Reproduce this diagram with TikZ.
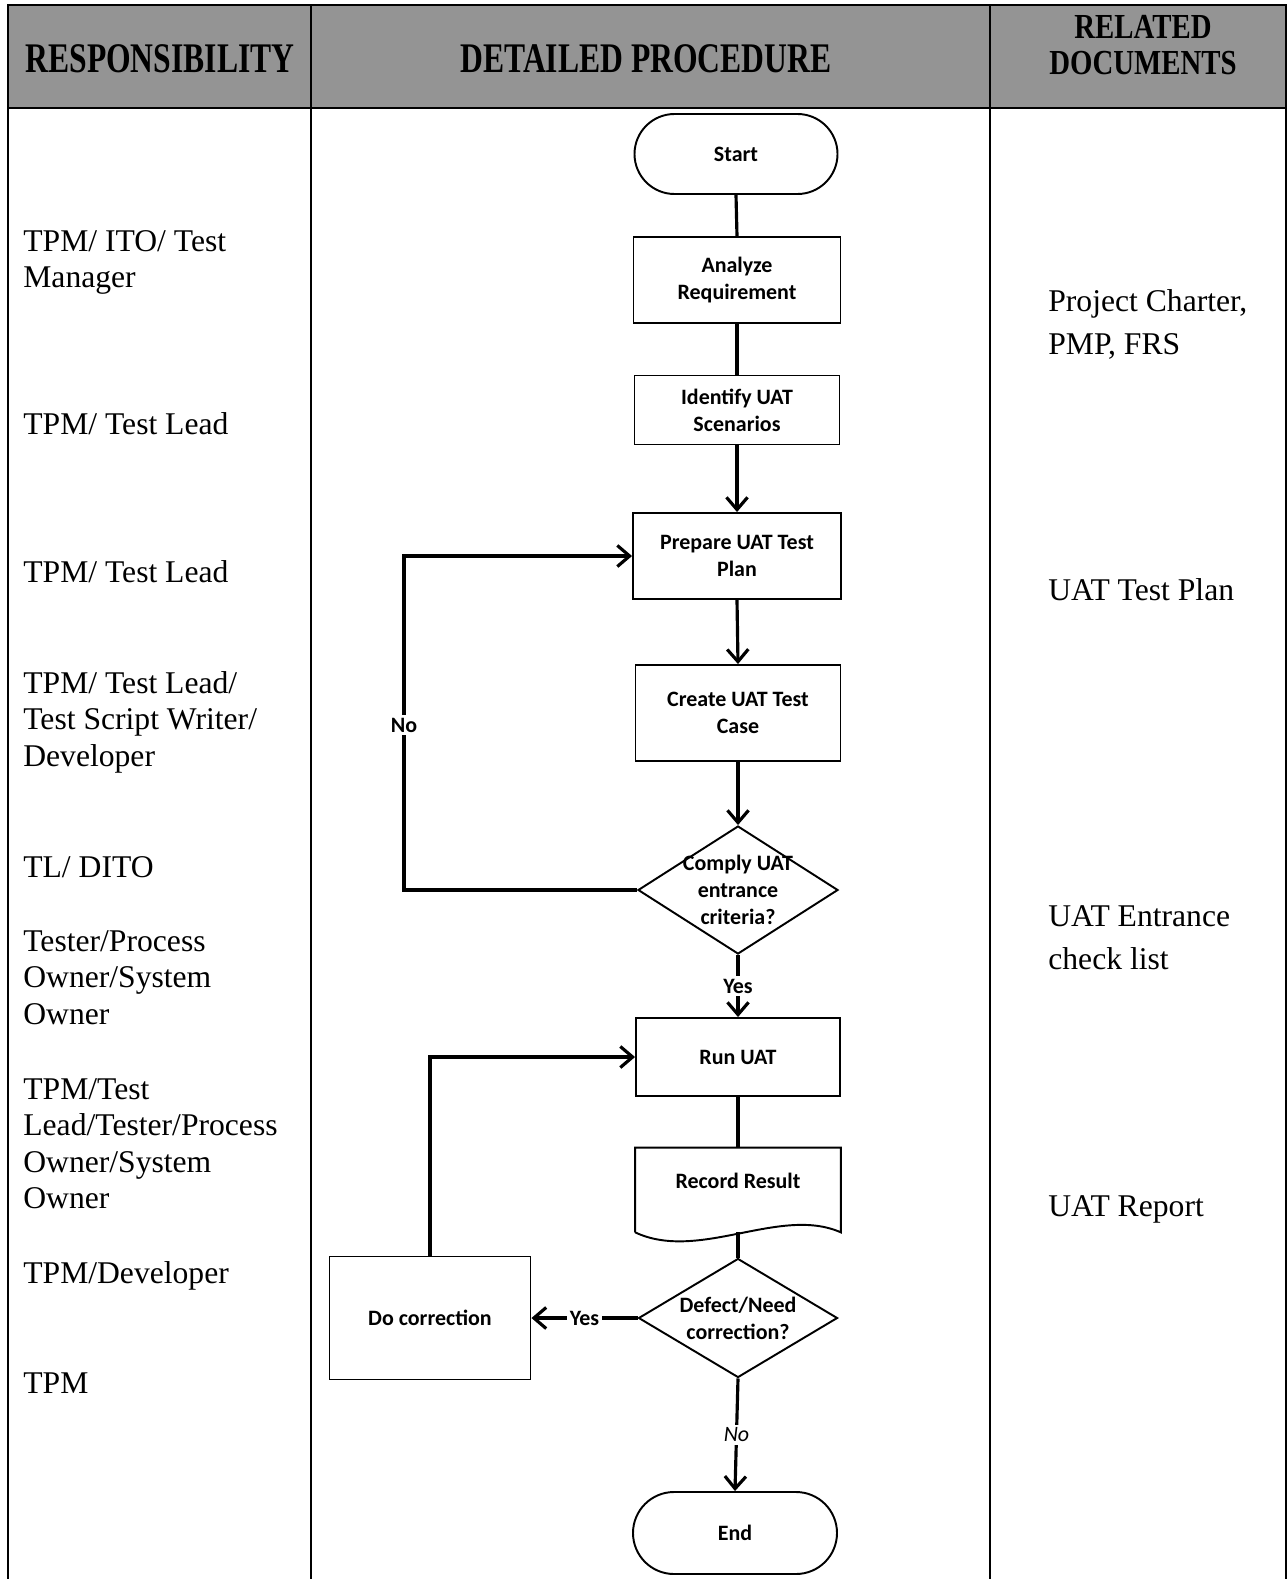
\documentclass[tikz,border=0pt]{standalone}
\usepackage{fontspec}
\setmainfont{Liberation Serif}
\newfontfamily\flowfont{Carlito}
\usepackage{graphicx}
\usetikzlibrary{positioning,shapes.geometric,arrows.meta}
\newlength{\px}
\setlength{\px}{0.02cm}

\begin{document}
\begin{tikzpicture}[
  x=0.02cm, y=-0.02cm,
  tbl/.style={line width=1.2pt},
  headtxt/.style={align=center, inner sep=0pt, font=\bfseries\fontsize{24}{26}\selectfont},
  resp/.style={anchor=base west, align=left, inner sep=0pt, font=\fontsize{18}{20.7}\selectfont},
  docs/.style={anchor=base west, align=left, inner sep=0pt, font=\fontsize{18}{24.4}\selectfont},
  flowtxt/.style={align=center, inner sep=0pt, font=\flowfont\bfseries\fontsize{12.5}{15.3}\selectfont},
  procbox/.style={flowtxt, draw, line width=1.1pt, rectangle},
  termbox/.style={procbox, minimum width=203\px, minimum height=80\px, rounded corners=40\px},
  decbox/.style={draw, line width=1.1pt, diamond, inner sep=0pt},
  flow/.style={-{Straight Barb[length=7pt,width=12pt]}, line width=1.8pt},
  link/.style={line width=1.8pt},
  lbl/.style={fill=white, inner sep=1.5pt, font=\flowfont\bfseries\fontsize{12.5}{15}\selectfont}
]
\useasboundingbox (0,0) rectangle (1288,1579);

% table frame and header
\fill[black!42] (8,5) rectangle (1286,108);
\draw[tbl] (8,1579) -- (8,5) -- (1286,5) -- (1286,1579);
\draw[tbl] (8,108) -- (1286,108);
\draw[tbl] (311,5) -- (311,1579);
\draw[tbl] (990,5) -- (990,1579);

\node[headtxt] (hresp) at (160,59) {\scalebox{0.75}[1]{RESPONSIBILITY}};
\node[headtxt] (hproc) at (646,59) {\scalebox{0.75}[1]{DETAILED PROCEDURE}};
\node[headtxt, font=\bfseries\fontsize{20}{20.4}\selectfont] (hdocs) at (1143,45)
  {\scalebox{0.82}[1]{RELATED}\\\scalebox{0.82}[1]{DOCUMENTS}};

% responsibility column (base = last line)
\node[resp] (r1) at (23,287.5) {TPM/ ITO/ Test\\Manager};
\node[resp] (r2) at (23,434) {TPM/ Test Lead};
\node[resp] (r3) at (23,582) {TPM/ Test Lead};
\node[resp] (r4) at (23,766) {TPM/ Test Lead/\\Test Script Writer/\\Developer};
\node[resp] (r5) at (23,877) {TL/ DITO};
\node[resp] (r6) at (23,1024) {Tester/Process\\Owner/System\\Owner};
\node[resp] (r7) at (23,1208.5) {TPM/Test\\Lead/Tester/Process\\Owner/System\\Owner};
\node[resp] (r8) at (23,1283) {TPM/Developer};
\node[resp] (r9) at (23,1393) {TPM};

% related documents column
\node[docs] (d1) at (1048,354) {Project Charter,\\PMP, FRS};
\node[docs] (d2) at (1048,600) {UAT Test Plan};
\node[docs] (d3) at (1048,969) {UAT Entrance\\check list};
\node[docs] (d4) at (1048,1216) {UAT Report};

% procedure
\node[termbox] (start) at (736,154) {Start};
\node[procbox, minimum width=207\px, minimum height=86\px] (analyze) at (737,280) {Analyze\\Requirement};
\node[procbox, minimum width=205\px, minimum height=69\px] (identify) at (737,410) {Identify UAT\\Scenarios};
\node[procbox, minimum width=208\px, minimum height=86\px] (prepare) at (737,556) {Prepare UAT Test\\Plan};
\node[procbox, minimum width=205\px, minimum height=96\px] (create) at (738,713) {Create UAT Test\\Case};
\node[decbox, minimum width=200\px, minimum height=128\px,
  label={[flowtxt]center:Comply UAT\\entrance\\criteria?}] (comply) at (738,890) {};
\node[procbox, minimum width=204\px, minimum height=78\px] (run) at (738,1057) {Run UAT};
\node[minimum width=205\px, minimum height=84\px, inner sep=0pt,
  label={[flowtxt, yshift=9\px]center:Record Result}] (record) at (738,1190) {};
\node[decbox, minimum width=199\px, minimum height=119\px,
  label={[flowtxt]center:Defect/Need\\correction?}] (defect) at (738,1318) {};
\node[procbox, minimum width=201\px, minimum height=123\px] (fix) at (430,1318) {Do correction};
\node[termbox, minimum width=204\px, minimum height=82\px, rounded corners=41\px] (stop) at (735,1533) {End};

\draw[line width=1.1pt] (record.south west) -- (record.north west) -- (record.north east) -- (record.south east)
  .. controls ([shift={(-61,-27)}]record.south east) and ([shift={(64,30)}]record.south west) .. (record.south west);

\draw[link] (start.south) -- (analyze.north);
\draw[link] (analyze.south) -- (identify.north);
\draw[flow] (identify.south) -- (prepare.north);
\draw[flow] (prepare.south) -- (create.north);
\draw[flow] (create.south) -- (comply.north);
\draw[flow] (comply.south) -- node[lbl] {Yes} (run.north);
\draw[link] (run.south) -- (record.north);
\draw[link] (record.south) -- (defect.north);
\draw[flow] (defect.west) -- node[lbl] {Yes} (fix.east);
\draw[flow] (defect.south) -- node[lbl, font=\flowfont\itshape\fontsize{12.5}{15}\selectfont] {No} (stop.north);

\coordinate (noturn) at (404,890);
\draw[flow] (comply.west) -- (noturn) |- node[lbl, pos=0.247] {No} (prepare.west);
\draw[flow] (fix.north) |- (run.west);
\end{tikzpicture}
\end{document}
